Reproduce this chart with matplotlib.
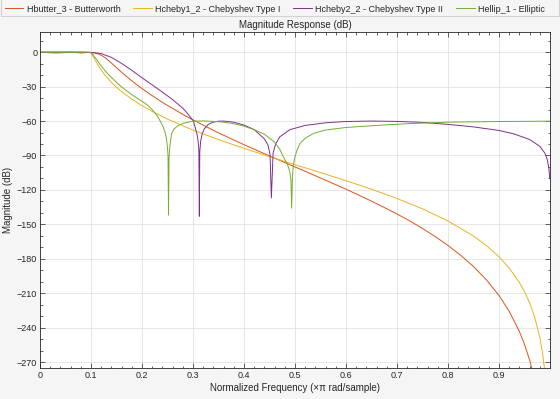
import matplotlib
matplotlib.use("Agg")
import matplotlib.pyplot as plt
from matplotlib.ticker import MultipleLocator
from matplotlib.patches import Rectangle

# Butterworth
butter_f = [0, 0.05, 0.08, 0.09, 0.1, 0.105, 0.11, 0.115, 0.12, 0.125, 0.13, 0.135, 0.14, 0.15,
            0.16, 0.17, 0.18, 0.19, 0.2, 0.22, 0.24, 0.25, 0.28, 0.3, 0.35, 0.4, 0.45, 0.5, 0.55,
            0.6, 0.625, 0.65, 0.675, 0.7, 0.725, 0.75, 0.775, 0.8, 0.825, 0.85, 0.875, 0.9, 0.92,
            0.94, 0.95, 0.96, 0.97]
butter_db = [0, 0, -0.02, -0.08, -0.27, -0.51, -0.95, -1.65, -2.67, -4.02, -5.66, -7.5, -9.44, -13.5,
             -17.45, -21.3, -24.9, -28.4, -31.7, -37.9, -43.7, -46.4, -54.2, -59.0, -70.3, -80.6, -90.4, -100.0, -109.6,
             -119.4, -124.5, -129.8, -135.3, -141.0, -147.0, -153.6, -160.7, -168.4, -177.0, -186.8, -198.2, -212.0, -225.8,
             -243.4, -254.6, -268.2, -285.7]

# Chebyshev Type I
cheby1_f = [0, 0.015, 0.0311, 0.045, 0.0592, 0.07, 0.0811, 0.088, 0.0952, 0.098, 0.1, 0.105, 0.11,
            0.115, 0.12, 0.13, 0.14, 0.15, 0.16, 0.18, 0.2, 0.22, 0.25, 0.3, 0.35, 0.4, 0.45, 0.5,
            0.55, 0.6, 0.65, 0.7, 0.75, 0.8, 0.85, 0.875, 0.9, 0.92, 0.94, 0.95, 0.96, 0.97, 0.98,
            0.985, 0.99]
cheby1_db = [0, -0.49, -1.0, -0.57, 0, -0.45, -1.0, -0.65, 0, -0.31, -1.0, -4.24, -8.3,
             -12.1, -15.6, -21.4, -26.3, -30.5, -34.3, -40.9, -46.6, -51.6, -58.3, -67.9, -76.2, -83.8, -91.0, -98.0,
             -104.9, -112.0, -119.4, -127.5, -136.5, -147.1, -160.2, -168.4, -178.3, -188.1, -200.7, -208.6, -218.4, -230.9, -248.5,
             -261.0, -278.6]

# Chebyshev Type II
cheby2_f = [0, 0.05, 0.08, 0.1, 0.12, 0.14, 0.16, 0.18, 0.2, 0.22, 0.24, 0.26, 0.28, 0.29, 0.2955,
            0.3007, 0.305, 0.308, 0.31, 0.3115, 0.3124, 0.3133, 0.315, 0.318, 0.322, 0.33, 0.34, 0.35,
            0.36, 0.38, 0.4, 0.42, 0.44, 0.447, 0.451, 0.4537, 0.457, 0.462, 0.47, 0.49, 0.52, 0.56,
            0.6, 0.65, 0.7, 0.75, 0.8, 0.85, 0.9, 0.93, 0.96, 0.98, 0.99, 0.995, 0.998, 0.9995]
cheby2_db = [0, 0, -0.02, -0.2, -1.2, -4.5, -9.8, -15.8, -22.3, -28.5, -34.8, -41.3, -48.8, -53.8, -57.0,
             -60.0, -66.8, -71.8, -77.5, -85.8, -143, -86.5, -77.6, -71.1, -66.9, -62.9, -60.9, -60.1,
             -60.0, -61.0, -63.5, -67.5, -75.5, -81.0, -89.0, -127, -88.0, -80.0, -73.8, -67.5, -63.8, -61.5,
             -60.4, -60.0, -60.3, -61.2, -62.9, -65.1, -68.2, -71.3, -76.1, -82.0, -88.0, -94.0, -102.0, -110]

# Elliptic
ellip_f = [0, 0.02, 0.05, 0.08, 0.095, 0.1, 0.105, 0.11, 0.115, 0.12, 0.13, 0.14, 0.15, 0.16, 0.18,
           0.2, 0.21, 0.22, 0.23, 0.235, 0.24, 0.245, 0.248, 0.25, 0.251, 0.252, 0.253, 0.254, 0.256,
           0.258, 0.262, 0.268, 0.28, 0.3, 0.32, 0.34, 0.36, 0.38, 0.4, 0.42, 0.44, 0.46, 0.47, 0.477,
           0.485, 0.49, 0.492, 0.4935, 0.495, 0.497, 0.5, 0.505, 0.51, 0.52, 0.536, 0.56, 0.6, 0.667,
           0.73, 0.8, 0.9, 1.0]
ellip_db = [0, -0.1, -0.05, -0.1, 0, -0.4, -2.8, -5.8, -9.0, -12.0, -17.5, -22.0, -26.3, -30.3, -37.0,
            -42.8, -45.8, -50.0, -55.5, -59.5, -63.5, -69.4, -75.5, -83.0, -91.0, -142, -92.0, -85.0, -77.0,
            -71.0, -67.5, -64.8, -62.0, -60.1, -59.9, -60.3, -61.0, -62.3, -64.5, -67.5, -71.5, -78.5, -84.5, -91.0,
            -97.5, -104.5, -111.0, -136, -108, -98, -91.0, -84.0, -79.5, -75.0, -70.8, -67.8, -65.6, -63.6,
            -62.1, -61.0, -60.4, -60.1]

labels = ["Hbutter_3 - Butterworth", "Hcheby1_2 - Chebyshev Type I",
          "Hcheby2_2 - Chebyshev Type II", "Hellip_1 - Elliptic"]
colors = ["#D95319", "#EDB120", "#7E2F8E", "#77AC30"]

plt.rcParams['font.family'] = ['Liberation Sans', 'DejaVu Sans']
txt = "#262626"

fig = plt.figure(figsize=(5.6, 3.99), dpi=100, facecolor="#f5f5f5")
ax = fig.add_axes([40/560, 1-368/399, 510/560, 336/399])
ax.set_facecolor("white")

lines = []
for f, d, c in zip([butter_f, cheby1_f, cheby2_f, ellip_f],
                   [butter_db, cheby1_db, cheby2_db, ellip_db], colors):
    l, = ax.plot(f, d, color=c, lw=0.7)
    lines.append(l)

ax.set_xlim(0, 1)
ax.set_ylim(-275.2, 17.6)
ax.set_xticks([0, 0.1, 0.2, 0.3, 0.4, 0.5, 0.6, 0.7, 0.8, 0.9])
ax.set_xticklabels(["0", "0.1", "0.2", "0.3", "0.4", "0.5", "0.6", "0.7", "0.8", "0.9"])
ax.set_yticks(range(-270, 1, 30))
ax.xaxis.set_minor_locator(MultipleLocator(0.02))
ax.yaxis.set_minor_locator(MultipleLocator(10))
ax.tick_params(which='both', direction='in', top=True, right=True, colors=txt,
               labelsize=6.5, width=0.5, pad=2)
ax.tick_params(which='major', length=3.5)
ax.tick_params(which='minor', length=1.8)
ax.grid(True, which='major', color='#e3e3e3', lw=0.6)
ax.set_axisbelow(True)
for s in ax.spines.values():
    s.set_color(txt)
    s.set_linewidth(0.6)

ax.set_title("Magnitude Response (dB)", fontsize=7, color=txt, pad=3)
ax.set_xlabel("Normalized Frequency (\u00d7\u03c0 rad/sample)", fontsize=7, color=txt, labelpad=2)
ax.set_ylabel("Magnitude (dB)", fontsize=7, color=txt, labelpad=3)

leg = fig.legend(lines, labels, loc='upper left', bbox_to_anchor=(0.0, 1.0), ncol=4,
                 frameon=False, fontsize=6.5, handlelength=2.1, handletextpad=0.35,
                 columnspacing=1.4, borderaxespad=0.1)
for t in leg.get_texts():
    t.set_color(txt)

fig.add_artist(Rectangle((1/560, 1-15.5/399), 558/560, 20/399, transform=fig.transFigure,
                         facecolor='none', edgecolor='#d2d2d2', lw=0.8))

plt.savefig("out.png", dpi=100, facecolor=fig.get_facecolor())
